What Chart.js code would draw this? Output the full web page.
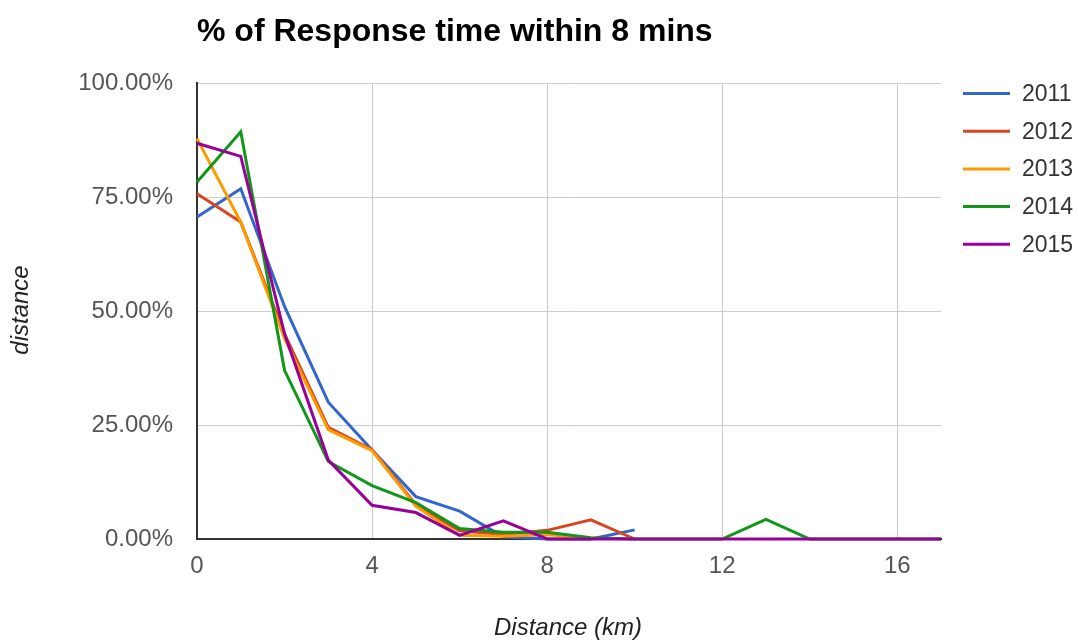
<!DOCTYPE html>
<html><head><meta charset="utf-8">
<script src="https://cdn.jsdelivr.net/npm/chart.js@4.4.0/dist/chart.umd.min.js"></script>
<style>html,body{margin:0;padding:0;background:#fff;overflow:hidden}#wrap{position:relative;width:1078px;height:640px}</style>
</head><body><div id="wrap"><canvas id="c" width="1078" height="640"></canvas></div>
<script>
const chartTitle = '% of Response time within 8 mins';
const xTitle = 'Distance (km)';
const yTitle = 'distance';
const distances = [0,1,2,3,4,5,6,7,8,9,10,11,12,13,14,15,16,17];
const years = ['2011','2012','2013','2014','2015'];
const colors = ['#3366cc','#d6461f','#ff9900','#109618','#990099'];
const s2011 = [70.6, 76.8, 51, 30, 19.5, 9.3, 6.1, 0.5, 0, 0, 2];
const s2012 = [75.7, 69.5, 45, 24.5, 19.6, 7.5, 1.8, 1, 1.9, 4.2, 0];
const s2013 = [87.8, 69.5, 44, 24, 19.4, 7.2, 0.8, 0.6, 1, 0];
const s2014 = [78.3, 89.3, 37, 17, 11.7, 8, 2.3, 1.5, 1.5, 0.3, 0, 0, 0, 4.3, 0, 0, 0, 0];
const s2015 = [86.8, 83.9, 45, 17.3, 7.4, 5.8, 0.8, 4, 0, 0, 0, 0, 0, 0, 0, 0, 0, 0];
const seriesValues = [s2011, s2012, s2013, s2014, s2015];
const xTickValues = [0, 4, 8, 12, 16];
const yTickValues = [0, 25, 50, 75, 100];

const datasets = years.map((y, i) => ({
  label: y,
  data: seriesValues[i].map((v, j) => ({x: distances[j], y: v})),
  borderColor: colors[i],
  backgroundColor: colors[i],
  borderWidth: 3,
  pointRadius: 0,
  tension: 0,
  fill: false,
  clip: 6,
  order: years.length - i
}));

const decor = {
  id: 'decor',
  afterDraw(chart) {
    const ctx = chart.ctx;
    ctx.save();
    ctx.fillStyle = '#000';
    ctx.font = 'bold 32px "Liberation Sans", Arial, sans-serif';
    ctx.textAlign = 'left';
    ctx.textBaseline = 'alphabetic';
    ctx.fillText(chartTitle, 197, 41);

    ctx.fillStyle = '#222';
    ctx.font = 'italic 24px "Liberation Sans", Arial, sans-serif';
    ctx.textAlign = 'center';
    ctx.textBaseline = 'middle';
    ctx.fillText(xTitle, 568, 628);
    ctx.save();
    ctx.translate(21, 310);
    ctx.rotate(-Math.PI / 2);
    ctx.fillText(yTitle, 0, 0);
    ctx.restore();

    ctx.font = '23px "Liberation Sans", Arial, sans-serif';
    ctx.textAlign = 'left';
    chart.data.datasets.forEach((ds, i) => {
      const yy = 93.5 + i * 37.7;
      ctx.strokeStyle = ds.borderColor;
      ctx.lineWidth = 3;
      ctx.beginPath();
      ctx.moveTo(963, yy);
      ctx.lineTo(1010, yy);
      ctx.stroke();
      ctx.fillStyle = '#333';
      ctx.fillText(ds.label, 1022, yy + 1);
    });
    ctx.restore();
  }
};

new Chart(document.getElementById('c'), {
  type: 'line',
  data: { datasets },
  plugins: [decor],
  options: {
    responsive: false,
    animation: false,
    devicePixelRatio: 1,
    layout: { padding: { top: 83, right: 137, bottom: 0, left: 0 } },
    plugins: { legend: { display: false }, tooltip: { enabled: false }, title: { display: false } },
    scales: {
      x: {
        type: 'linear', min: 0, max: 17,
        afterFit: s => { s.height = 101; },
        afterBuildTicks: s => { s.ticks = xTickValues.map(v => ({value: v})); },
        ticks: { color: '#555', font: { size: 24, family: '"Liberation Sans", Arial, sans-serif' }, padding: 13, maxRotation: 0 },
        grid: { color: '#cccccc', lineWidth: 1, drawTicks: false },
        border: { display: true, color: '#333', width: 2 }
      },
      y: {
        min: 0, max: 100,
        afterFit: s => { s.width = 197; },
        afterBuildTicks: s => { s.ticks = yTickValues.map(v => ({value: v})); },
        ticks: { color: '#555', font: { size: 24, family: '"Liberation Sans", Arial, sans-serif' }, padding: 24,
                 callback: v => v.toFixed(2) + '%' },
        grid: { color: '#cccccc', lineWidth: 1, drawTicks: false },
        border: { display: true, color: '#333', width: 2 }
      }
    }
  }
});
</script></body></html>
